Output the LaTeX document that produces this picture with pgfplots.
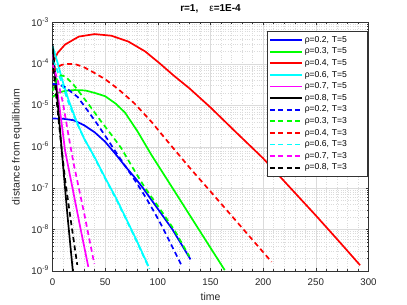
\documentclass[border=0pt]{standalone}
\usepackage{fontspec}
\setmainfont{Liberation Sans}
\usepackage{pgfplots}
\pgfplotsset{compat=1.18}
\definecolor{axc}{gray}{0.2}
\definecolor{gridc}{gray}{0.86}
\definecolor{cB}{rgb}{0,0,1}
\definecolor{cG}{rgb}{0,1,0}
\definecolor{cR}{rgb}{1,0,0}
\definecolor{cC}{rgb}{0,1,1}
\definecolor{cM}{rgb}{1,0,1}
\definecolor{cK}{rgb}{0,0,0}
\begin{document}
\begin{tikzpicture}
\begin{axis}[
  at={(0pt,0pt)}, anchor=south west,
  width=316pt, height=248.5pt, scale only axis,
  ymode=log,
  xmin=0, xmax=300, ymin=1e-9, ymax=1e-3,
  xtick={0,50,100,150,200,250,300},
  xticklabels={0,50,100,150,200,250,300},
  ytick={1e-9,1e-8,1e-7,1e-6,1e-5,1e-4,1e-3},
  yticklabels={10\textsuperscript{-9},10\textsuperscript{-8},10\textsuperscript{-7},10\textsuperscript{-6},10\textsuperscript{-5},10\textsuperscript{-4},10\textsuperscript{-3}},
  minor x tick num=4,
  grid=both,
  major grid style={draw=gridc, line width=0.5pt},
  minor grid style={draw=gridc, dotted, line width=0.5pt},
  axis line style={draw=axc, line width=0.5pt},
  tick style={draw=axc, line width=0.5pt},
  major tick length=3pt, minor tick length=1.7pt,
  tick label style={font=\fontsize{9.7}{11}\selectfont, text=black!85},
  xticklabel style={anchor=base, yshift=-14pt, inner sep=0pt},
  yticklabel style={anchor=base east, inner sep=0pt, xshift=-3.5pt, yshift=-3.5pt},
  xlabel={time},
  ylabel={distance from equilibrium},
  xlabel style={at={(rel axis cs:0.5,0)}, anchor=base, yshift=-29pt, font=\fontsize{10.5}{12}\selectfont, text=black!85},
  ylabel style={at={(rel axis cs:-0.1123,0.5)}, anchor=center, font=\fontsize{10.5}{12}\selectfont, text=black!85},
  title={\textbf{r=1,}\hspace{11pt}ε\textbf{=1E-4}},
  title style={at={(rel axis cs:0.5,1)}, anchor=base, yshift=5.5pt, font=\fontsize{10}{12}\selectfont},
  legend cell align=left,
  legend image code/.code={\draw[#1, line width=1.7pt] (0pt,0pt) -- (32pt,0pt);},
  legend style={
    at={(rel axis cs:1,1)}, anchor=north east, xshift=-1.5pt, yshift=-8.5pt,
    draw=axc, line width=0.5pt, fill=white,
    inner xsep=2pt, inner ysep=3pt,
    font=\fontsize{8.6}{10}\selectfont,
    row sep=0pt,
    nodes={inner xsep=2pt, inner ysep=1.8pt, text height=6.2pt, text depth=1.8pt, text width=58pt, align=left},
  },
  sol/.style={solid, line width=1.7pt, mark=none},
  dsh/.style={dash pattern=on 5pt off 3.5pt, line width=1.7pt, mark=none},
]
\addlegendimage{cB, solid}\addlegendentry{ρ=0.2, T=5}
\addlegendimage{cG, solid}\addlegendentry{ρ=0.3, T=5}
\addlegendimage{cR, solid}\addlegendentry{ρ=0.4, T=5}
\addlegendimage{cC, solid}\addlegendentry{ρ=0.6, T=5}
\addlegendimage{cM, solid}\addlegendentry{ρ=0.7, T=5}
\addlegendimage{cK, solid}\addlegendentry{ρ=0.8, T=5}
\addlegendimage{cB, dash pattern=on 5pt off 3.5pt}\addlegendentry{ρ=0.2, T=3}
\addlegendimage{cG, dash pattern=on 5pt off 3.5pt}\addlegendentry{ρ=0.3, T=3}
\addlegendimage{cR, dash pattern=on 5pt off 3.5pt}\addlegendentry{ρ=0.4, T=3}
\addlegendimage{cC, dash pattern=on 5pt off 3.5pt}\addlegendentry{ρ=0.6, T=3}
\addlegendimage{cM, dash pattern=on 5pt off 3.5pt}\addlegendentry{ρ=0.7, T=3}
\addlegendimage{cK, dash pattern=on 5pt off 3.5pt}\addlegendentry{ρ=0.8, T=3}
% T=5 solid
\addplot[cB, sol, forget plot] coordinates {(0,4.8e-6) (10,4.75e-6) (20,4.37e-6) (30,3.31e-6) (40,2.24e-6) (50,1.32e-6) (60,6.6e-7) (69,3.39e-7) (78,1.82e-7) (86,1.0e-7) (100,3.16e-8) (114,1.0e-8) (131,1.91e-9)};
\addplot[cG, sol, forget plot] coordinates {(0,1.58e-5) (5,2.0e-5) (12,2.24e-5) (21,2.34e-5) (31,2.29e-5) (40,2.0e-5) (50,1.66e-5) (60,1.1e-5) (69,6.6e-6) (81,2.29e-6) (94,6.3e-7) (110,1.45e-7) (130,2.29e-8) (150,3.63e-9) (163.5,1.05e-9)};
\addplot[cR, sol, forget plot] coordinates {(0,8.5e-5) (2,1.3e-4) (5,1.86e-4) (12,2.95e-4) (25,4.57e-4) (40,5.25e-4) (56,4.79e-4) (72,3.47e-4) (88,2.0e-4) (102,1.02e-4) (115,5.25e-5) (130,2.57e-5) (150,8.9e-6) (175,2.14e-6) (200,5.25e-7) (225,1.07e-7) (250,2.19e-8) (275,4.27e-9) (292,1.38e-9)};
\addplot[cC, sol, forget plot] coordinates {(0,2.7e-4) (3,1.55e-4) (6,8.3e-5) (10,3.55e-5) (15,1.41e-5) (23,3.98e-6) (30,1.58e-6) (40,5.6e-7) (50,1.78e-7) (60,6.0e-8) (70,1.82e-8) (80,5.4e-9) (91,1.32e-9)};
\addplot[cM, sol, forget plot] coordinates {(0,1.7e-4) (3,4.5e-5) (6,1.2e-5) (9,3.16e-6) (12,7.9e-7) (18,1.35e-7) (26,1.26e-8) (34,1.26e-9)};
\addplot[cK, sol, forget plot] coordinates {(0,3.0e-4) (3,4.0e-5) (6,5.6e-6) (9,7.1e-7) (14,2.5e-8) (19.3,1.0e-9)};
% T=3 dashed
\addplot[cB, dsh, forget plot] coordinates {(0,3.31e-5) (6,3.16e-5) (12,2.75e-5) (24,1.58e-5) (34,7.1e-6) (43,3.39e-6) (53,1.41e-6) (62,6.3e-7) (70,3.16e-7) (80,1.32e-7) (88,6.3e-8) (96,2.82e-8) (104,1.2e-8) (113,4.17e-9) (122,1.45e-9)};
\addplot[cG, dsh, forget plot] coordinates {(0,2.2e-5) (4,4.2e-5) (8,5.3e-5) (12,5.0e-5) (20,3.16e-5) (26,2.0e-5) (35,1.0e-5) (45,4.47e-6) (55,2.09e-6) (65,9.5e-7) (76,3.16e-7) (88,1.0e-7) (102,3.16e-8) (116,9.5e-9) (130,2.24e-9)};
\addplot[cR, dsh, forget plot] coordinates {(0,6.6e-5) (4,8.3e-5) (9,9.55e-5) (15,1.0e-4) (21,1.0e-4) (30,8.3e-5) (40,6.03e-5) (50,4.27e-5) (62,2.51e-5) (72,1.51e-5) (78,1.1e-5) (94,3.98e-6) (107,1.58e-6) (130,3.16e-7) (149,8.9e-8) (178,1.26e-8) (208,1.66e-9)};
\addplot[cC, dsh, forget plot] coordinates {(0,1.2e-4) (3,8.9e-5) (6,5.6e-5) (10,2.82e-5) (15,1.2e-5) (23,3.8e-6) (30,1.58e-6) (40,5.4e-7) (50,1.7e-7) (60,5.75e-8) (70,1.74e-8) (80,5.1e-9) (92,1.12e-9)};
\addplot[cM, dsh, forget plot] coordinates {(0,1.0e-4) (5,3.98e-5) (10,1.12e-5) (15,2.0e-6) (20,4.0e-7) (30,2.51e-8) (39.7,1.48e-9)};
\addplot[cK, dsh, forget plot] coordinates {(0,1.26e-4) (4,1.26e-5) (8,1.26e-6) (12,1.58e-7) (17.5,1.58e-8) (23.5,1.41e-9)};
\end{axis}
\path (-52.5pt,-34pt) rectangle (354.5pt,271pt);
\end{tikzpicture}
\end{document}
